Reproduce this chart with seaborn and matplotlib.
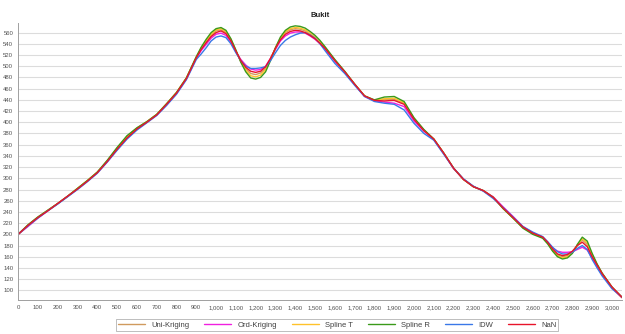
import matplotlib
matplotlib.use("Agg")
import matplotlib.pyplot as plt
import seaborn as sns
import pandas as pd
from matplotlib.ticker import FuncFormatter, MultipleLocator
from matplotlib.lines import Line2D

sns.set_style("white")
plt.rcParams['font.family'] = ['Liberation Sans', 'DejaVu Sans']

title = "Bukit"
distance = ([0, 50, 100, 150, 200, 250, 300, 350, 400, 450, 500, 550, 600, 650, 700, 750, 800, 850]
            + [900, 925, 950, 975, 1000, 1025, 1050, 1075, 1100, 1125, 1150, 1175, 1200, 1225,
               1250, 1275, 1300, 1325, 1350, 1375, 1400, 1425, 1450, 1475, 1500, 1525, 1550]
            + [1600, 1650, 1700, 1750, 1800, 1850, 1900, 1950, 2000, 2050, 2100, 2150, 2200,
               2250, 2300, 2350, 2400, 2450, 2500, 2550, 2600, 2650]
            + [2675, 2700, 2725, 2750, 2775, 2800, 2825, 2850, 2875, 2900, 2925, 2950]
            + [3000, 3050])

uni_kriging = ([200, 217, 231, 243, 255, 268, 282, 296, 311, 331, 354, 375, 390, 401, 414, 433, 453, 479]
               + [516, 531, 544, 555, 563, 565, 560, 547, 527, 509, 496, 487, 485, 488, 496, 513, 532,
                  549, 560, 565, 567, 566, 563, 557, 551, 542, 533]
               + [510, 490, 468, 447, 439, 441, 441, 434, 406, 386, 370, 345, 318, 298, 285, 278, 266,
                  247, 230, 213, 202, 195]
               + [185, 172, 163, 160, 162, 168, 180, 190, 182, 162, 146, 130]
               + [106, 88])
ord_kriging = ([200, 214, 229, 242, 255, 268, 281, 295, 310, 329, 351, 371, 388, 400, 413, 431, 451, 477]
               + [514, 528, 539, 550, 557, 559, 555, 543, 526, 512, 502, 495, 493, 494, 500, 514, 530,
                  545, 554, 559, 561, 561, 559, 554, 548, 540, 531]
               + [509, 489, 467, 446, 438, 436, 434, 428, 402, 384, 369, 344, 317, 298, 285, 278, 267,
                  249, 232, 214, 203, 195]
               + [186, 176, 170, 168, 168, 169, 173, 177, 172, 158, 142, 128]
               + [104, 87])
spline_t = ([200, 216, 230, 243, 255, 268, 282, 296, 311, 331, 353, 374, 389, 401, 414, 433, 453, 479]
            + [516, 533, 546, 557, 565, 567, 562, 548, 528, 508, 493, 483, 481, 484, 494, 512, 533,
               550, 562, 567, 569, 568, 565, 559, 552, 544, 534]
            + [511, 490, 468, 447, 439, 442, 443, 435, 407, 386, 370, 345, 318, 298, 285, 278, 266,
               246, 229, 212, 201, 194]
            + [184, 171, 161, 158, 160, 167, 181, 192, 185, 164, 146, 131]
            + [105, 87])
spline_r = ([200, 217, 231, 243, 255, 268, 282, 296, 311, 332, 355, 376, 390, 401, 414, 433, 453, 479]
            + [517, 534, 548, 560, 567, 569, 564, 549, 529, 507, 490, 479, 477, 480, 490, 510, 533,
               552, 564, 570, 572, 571, 568, 562, 555, 546, 535]
            + [512, 491, 468, 447, 440, 445, 446, 437, 408, 387, 370, 345, 318, 298, 285, 278, 266,
               246, 229, 211, 200, 193]
            + [183, 170, 160, 156, 158, 166, 182, 195, 188, 166, 147, 131]
            + [106, 88])
idw = ([200, 215, 229, 242, 254, 267, 280, 294, 309, 329, 350, 370, 386, 399, 412, 430, 450, 476]
       + [512, 522, 533, 545, 552, 554, 551, 540, 524, 510, 500, 496, 496, 497, 499, 510, 524,
          537, 546, 552, 556, 559, 560, 556, 550, 540, 528]
       + [505, 487, 466, 446, 437, 434, 432, 422, 398, 380, 368, 343, 318, 299, 286, 277, 264,
          248, 231, 214, 204, 196]
       + [187, 177, 169, 165, 165, 168, 175, 180, 173, 155, 140, 126]
       + [103, 88])
nan_series = ([200, 216, 230, 242, 255, 268, 281, 295, 310, 330, 352, 372, 388, 400, 413, 432, 452, 478]
              + [515, 530, 542, 553, 560, 563, 558, 545, 527, 510, 498, 491, 489, 491, 499, 514, 532,
                 547, 557, 562, 564, 563, 560, 555, 549, 541, 532]
              + [510, 490, 468, 447, 439, 438, 439, 432, 405, 385, 370, 345, 318, 298, 285, 278, 266,
                 247, 230, 213, 202, 195]
              + [186, 174, 165, 162, 164, 170, 180, 186, 178, 160, 145, 130]
              + [106, 88])

series_names = ["Uni-Kriging", "Ord-Kriging", "Spline T", "Spline R", "IDW", "NaN"]
series_values = [uni_kriging, ord_kriging, spline_t, spline_r, idw, nan_series]
colors = ["#d09a5e", "#f020e0", "#ffc22a", "#3a9a1a", "#3a78e8", "#e8142a"]

frames = []
for name, vals in zip(series_names, series_values):
    frames.append(pd.DataFrame({"distance": distance, "elev": vals, "series": name}))
df = pd.concat(frames, ignore_index=True)

fig = plt.figure(figsize=(6.25, 3.34), dpi=100)
ax = fig.add_axes([0.029, 0.102, 0.966, 0.829])

ax.yaxis.grid(True, color="#dcdcdc", lw=0.8)
ax.set_axisbelow(True)

sns.lineplot(data=df, x="distance", y="elev", hue="series", hue_order=series_names,
             palette=dict(zip(series_names, colors)), sort=False, legend=False,
             linewidth=1.0, ax=ax)
for line in ax.get_lines():
    line.set_solid_joinstyle("round")

ax.set_xlim(0, 3050)
ax.set_ylim(83, 577)
ax.xaxis.set_major_locator(MultipleLocator(100))
ax.set_yticks(list(range(100, 561, 20)))
ax.xaxis.set_major_formatter(FuncFormatter(lambda v, p: f"{int(v):,}"))
ax.tick_params(axis="both", labelsize=4.3, colors="#505050", length=2, width=0.6, pad=1.5)
ax.set_xlabel("")
ax.set_ylabel("")
for s in ["top", "right"]:
    ax.spines[s].set_visible(False)
for s in ["left", "bottom"]:
    ax.spines[s].set_color("#a0a0a0")
    ax.spines[s].set_linewidth(0.7)

ax.set_title(title, fontsize=5.5, fontweight="bold", pad=4, color="#202020")

handles = [Line2D([0], [0], color=c, lw=1.0) for c in colors]
leg = fig.legend(handles, series_names, loc="center", bbox_to_anchor=(337 / 625, 1 - 325 / 334),
                 ncol=6, fontsize=5.5, handlelength=3.6, columnspacing=1.9, handletextpad=0.8,
                 frameon=True, fancybox=False, borderpad=0.25)
leg.get_frame().set_edgecolor("#a0a0a0")
leg.get_frame().set_linewidth(0.6)
for t in leg.get_texts():
    t.set_color("#404040")

fig.savefig("out.png", dpi=100)
